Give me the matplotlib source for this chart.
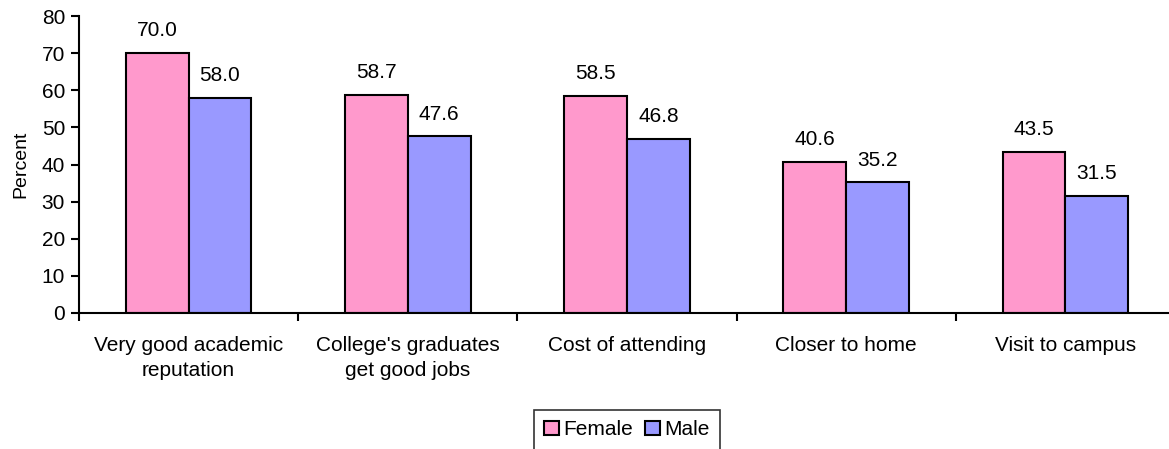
import numpy as np
import matplotlib
matplotlib.use("Agg")
import matplotlib.pyplot as plt

# значення
categories = ["Very good academic\nreputation", "College's graduates\nget good jobs",
              "Cost of attending", "Closer to home", "Visit to campus"]
female = [70.0, 58.7, 58.5, 40.6, 43.5]
male = [58.0, 47.6, 46.8, 35.2, 31.5]

plt.rcParams['font.family'] = ['Liberation Sans', 'DejaVu Sans']
fs = 15

W, H = 1169, 449
fig = plt.figure(figsize=(W / 100, H / 100), dpi=100)
# вісь виходить за правий край, як на оригіналі
ax = fig.add_axes([79 / W, 136 / H, 1096 / W, 297 / H])

x = np.arange(len(categories))
bw = 0.2864
ax.bar(x - bw / 2, female, bw, color='#FF99CC', edgecolor='black', linewidth=1.5, label='Female')
ax.bar(x + bw / 2, male, bw, color='#9999FF', edgecolor='black', linewidth=1.5, label='Male')

for xi, f, m in zip(x, female, male):
    ax.text(xi - bw / 2, f + 6.0, f"{f:.1f}", ha='center', va='center', fontsize=fs)
    ax.text(xi + bw / 2, m + 6.0, f"{m:.1f}", ha='center', va='center', fontsize=fs)

ax.set_xlim(-0.5, len(categories) - 0.5)
ax.set_ylim(0, 80)
ax.set_yticks(range(0, 81, 10))
ax.tick_params(axis='y', labelsize=fs, length=6, width=1.5, direction='out', pad=4)

ax.set_xticks(np.arange(len(categories) + 1) - 0.5)
ax.set_xticklabels([])
ax.tick_params(axis='x', length=6, width=1.5, direction='out')
for xi, lab in zip(x, categories):
    ax.text(xi, -6.2, lab, ha='center', va='top', fontsize=fs, linespacing=1.4)

ax.spines['top'].set_visible(False)
ax.spines['right'].set_visible(False)
ax.spines['left'].set_linewidth(1.5)
ax.spines['bottom'].set_linewidth(1.5)
ax.set_ylabel("Percent", fontsize=14, labelpad=9)

leg = fig.legend(loc='upper center', bbox_to_anchor=(627 / W, 39 / H), ncol=2, fontsize=fs,
                 frameon=True, fancybox=False, handlelength=0.7, handleheight=0.7,
                 handletextpad=0.2, columnspacing=0.6, borderpad=0.5, borderaxespad=0)
leg.get_frame().set_edgecolor('black')
leg.get_frame().set_linewidth(1.2)

fig.savefig("out.png", dpi=100)
